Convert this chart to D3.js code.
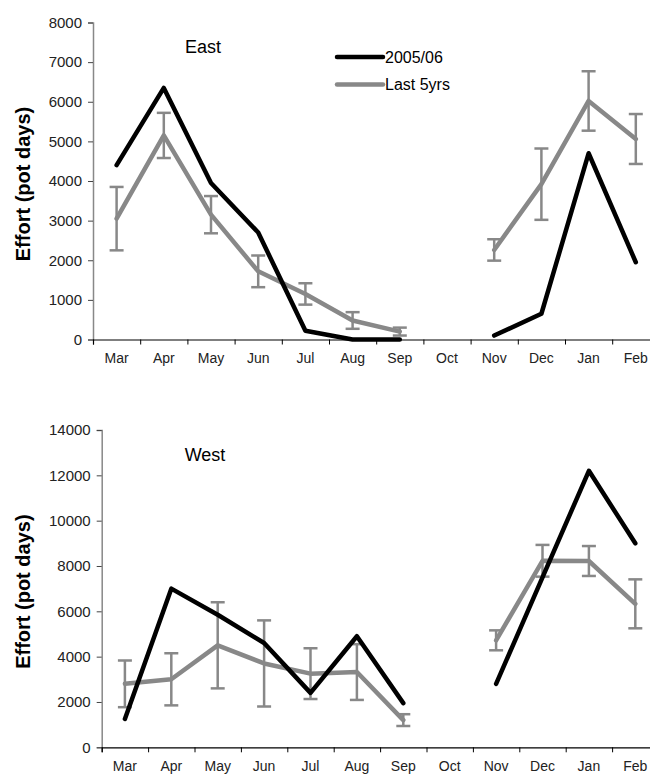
<!DOCTYPE html>
<html>
<head>
<meta charset="utf-8">
<script src="https://cdn.jsdelivr.net/npm/d3@7"></script>
<style>
  body { margin: 0; background: #fff; }
  svg { display: block; font-family: Arial, "Liberation Sans", sans-serif; }
</style>
</head>
<body>
<script>
var months = ['Mar', 'Apr', 'May', 'Jun', 'Jul', 'Aug', 'Sep', 'Oct', 'Nov', 'Dec', 'Jan', 'Feb'];

// East: 2005/06 season and mean of last 5 years (with error)
var eastCurrent = [4400, 6350, 3950, 2700, 220, 0, 0, null, 100, 650, 4700, 1950];
var eastMean    = [3050, 5150, 3150, 1720, 1150, 480, 200, null, 2260, 3920, 6020, 5060];
var eastErr     = [800, 570, 470, 400, 270, 210, 100, null, 270, 900, 750, 630];

// West
var westCurrent = [1250, 7000, 5850, 4600, 2400, 4900, 1950, null, 2800, 7500, 12200, 9000];
var westMean    = [2800, 3000, 4500, 3700, 3250, 3320, 1200, null, 4720, 8230, 8220, 6330];
var westErr     = [1030, 1150, 1900, 1900, 1120, 1230, 260, null, 440, 700, 660, 1080];

var eastTicks = [0, 1000, 2000, 3000, 4000, 5000, 6000, 7000, 8000];
var westTicks = [0, 2000, 4000, 6000, 8000, 10000, 12000, 14000];

var width = 650, height = 778;
var svg = d3.select('body').append('svg')
    .attr('width', width)
    .attr('height', height);

function panel(opts) {
  var x = d3.scaleBand().domain(months).range([opts.left, opts.left + 12 * opts.step]);
  var xEdge = d3.scaleLinear().domain([0, 12]).range(x.range());
  var y = d3.scaleLinear().domain([0, opts.max]).range([opts.bottom, opts.top]);
  var g = svg.append('g');

  // y axis
  var ya = g.append('g')
    .attr('transform', 'translate(' + opts.left + ',0)')
    .call(d3.axisLeft(y).tickValues(opts.ticks).tickSize(5).tickPadding(6).tickFormat(d3.format('d')));
  ya.select('.domain').attr('stroke', '#888').attr('stroke-width', 1.5);
  ya.selectAll('.tick line').attr('stroke', '#444');
  ya.selectAll('text').attr('font-size', 15).attr('fill', '#222').style('font-family', 'Arial, "Liberation Sans", sans-serif');

  // x axis: ticks on category edges, labels at centres
  var xe = g.append('g')
    .attr('transform', 'translate(0,' + opts.bottom + ')')
    .call(d3.axisBottom(xEdge).tickValues(d3.range(0, 13)).tickSize(5).tickFormat(''));
  xe.select('.domain').attr('stroke', '#000').attr('stroke-width', 1.2);
  xe.selectAll('.tick line').attr('stroke', '#000');

  var xl = g.append('g')
    .attr('transform', 'translate(0,' + opts.bottom + ')')
    .call(d3.axisBottom(x).tickSize(0).tickPadding(14));
  xl.select('.domain').remove();
  xl.selectAll('text').attr('font-size', 14).attr('fill', '#222').style('font-family', 'Arial, "Liberation Sans", sans-serif');

  var cx = function (d, i) { return x(months[i]) + x.bandwidth() / 2; };

  // error bars
  var eb = g.append('g').attr('stroke', '#888').attr('stroke-width', 2.5);
  var capW = 7;
  opts.mean.forEach(function (m, i) {
    if (m == null) return;
    var px = cx(m, i), hi = y(m + opts.err[i]), lo = y(Math.max(0, m - opts.err[i]));
    eb.append('line').attr('x1', px).attr('x2', px).attr('y1', hi).attr('y2', lo);
    eb.append('line').attr('x1', px - capW).attr('x2', px + capW).attr('y1', hi).attr('y2', hi);
    eb.append('line').attr('x1', px - capW).attr('x2', px + capW).attr('y1', lo).attr('y2', lo);
  });

  var line = d3.line()
    .defined(function (d) { return d != null; })
    .x(cx)
    .y(function (d) { return y(d); });

  g.append('path').datum(opts.mean)
    .attr('fill', 'none').attr('stroke', '#888').attr('stroke-width', 4.5)
    .attr('stroke-linejoin', 'round').attr('stroke-linecap', 'round')
    .attr('d', line);
  g.append('path').datum(opts.current)
    .attr('fill', 'none').attr('stroke', '#000').attr('stroke-width', 4.5)
    .attr('stroke-linejoin', 'round').attr('stroke-linecap', 'round')
    .attr('d', line);

  // panel label
  g.append('text').attr('x', opts.labelX).attr('y', opts.labelY)
    .attr('text-anchor', 'middle').attr('font-size', 18).text(opts.label);

  // y title
  g.append('text')
    .attr('transform', 'translate(' + opts.titleX + ',' + ((opts.top + opts.bottom) / 2 + 3) + ') rotate(-90)')
    .attr('text-anchor', 'middle').attr('font-size', 20).attr('font-weight', 'bold')
    .text('Effort (pot days)');
}

panel({ left: 93, step: 47.2, top: 22.5, bottom: 339.5, max: 8000, ticks: eastTicks,
  current: eastCurrent, mean: eastMean, err: eastErr, label: 'East', labelX: 203, labelY: 53, titleX: 30 });
panel({ left: 101.7, step: 46.4, top: 430, bottom: 747.3, max: 14000, ticks: westTicks,
  current: westCurrent, mean: westMean, err: westErr, label: 'West', labelX: 205, labelY: 461, titleX: 30 });

// legend
var legend = svg.append('g');
var legItems = [{ name: '2005/06', color: '#000' }, { name: 'Last 5yrs', color: '#888' }];
legItems.forEach(function (d, i) {
  var ly = 57 + i * 27.5;
  legend.append('line').attr('x1', 337).attr('x2', 383).attr('y1', ly).attr('y2', ly)
    .attr('stroke', d.color).attr('stroke-width', 4.5).attr('stroke-linecap', 'round');
  legend.append('text').attr('x', 385).attr('y', ly).attr('dy', '0.35em')
    .attr('font-size', 16).text(d.name);
});
</script>
</body>
</html>
